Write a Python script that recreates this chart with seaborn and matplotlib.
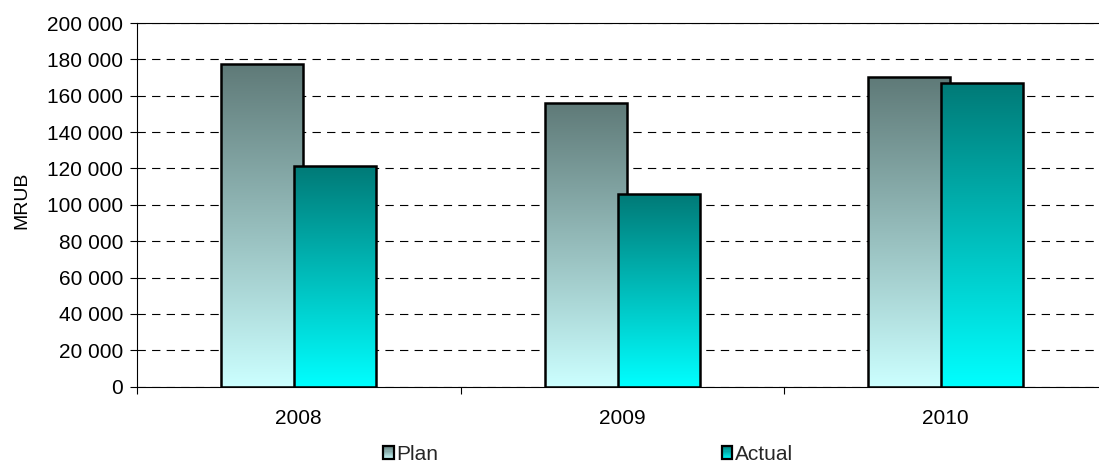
import numpy as np
import pandas as pd
import matplotlib
matplotlib.use("Agg")
import matplotlib.pyplot as plt
import seaborn as sns
from matplotlib.colors import LinearSegmentedColormap, to_rgb
from matplotlib.patches import Rectangle, Patch
from matplotlib.legend_handler import HandlerBase
from matplotlib.ticker import FuncFormatter, FixedLocator

# Data
years = ["2008", "2009", "2010"]
plan = [177300, 155800, 170300]
actual = [121400, 105800, 167000]
series = ["Plan", "Actual"]
yticks = list(range(0, 200001, 20000))

# Vertical gradient per series: (top colour, bottom colour)
gradients = {"Plan": ("#5f7a78", "#ccffff"), "Actual": ("#007a77", "#00ffff")}

df = pd.DataFrame({
    "year": years * 2,
    "series": ["Plan"] * len(years) + ["Actual"] * len(years),
    "value": plan + actual,
})

sns.set_theme(style="white")
plt.rcParams["font.family"] = ["Liberation Sans", "DejaVu Sans"]
plt.rcParams["lines.scale_dashes"] = False
FS = 15

W, H = 1099, 465
fig = plt.figure(figsize=(W / 100, H / 100), dpi=100)
ax = fig.add_axes([137 / W, 78.3 / H, 970.5 / W, 363.7 / H])

sns.barplot(data=df, x="year", y="value", hue="series", order=years,
            hue_order=series, width=0.452, saturation=1, legend=False,
            palette=[gradients[s][0] for s in series], ax=ax)

bar_w = 0.2535
for k, (name, cont) in enumerate(zip(series, ax.containers)):
    top_c, bot_c = gradients[name]
    cmap = LinearSegmentedColormap.from_list(name, [bot_c, top_c])
    grad = np.linspace(0, 1, 256).reshape(-1, 1)
    for bar in cont:
        cx = bar.get_x() + bar.get_width() / 2
        bar.set_x(cx - bar_w / 2)
        bar.set_width(bar_w)
        h = bar.get_height()
        ax.imshow(grad, extent=[cx - bar_w / 2, cx + bar_w / 2, 0, h],
                  origin="lower", aspect="auto", cmap=cmap,
                  interpolation="bilinear", zorder=2 + k * 0.2)
        bar.set_facecolor("none")
        bar.set_edgecolor("black")
        bar.set_linewidth(1.8)
        bar.set_zorder(2.1 + k * 0.2)

ax.set_xlim(-0.5, 2.5)
ax.set_ylim(0, 200000)
ax.set_aspect("auto")

# Gridlines
ax.set_axisbelow(True)
ax.yaxis.grid(True, color="black", linewidth=0.8, linestyle=(0, (6, 4.5)))
ax.xaxis.grid(False)

# Axes spines
for s in ["left", "bottom", "top"]:
    ax.spines[s].set_visible(True)
    ax.spines[s].set_color("black")
    ax.spines[s].set_linewidth(0.8)
ax.spines["right"].set_visible(False)

# Y axis
ax.yaxis.set_major_locator(FixedLocator(yticks))
ax.yaxis.set_major_formatter(FuncFormatter(lambda v, p: f"{v:,.0f}".replace(",", " ")))
ax.tick_params(axis="y", which="major", direction="out", length=5, width=0.8,
               color="black", labelsize=FS, pad=5, left=True)
ax.set_ylabel("MRUB", fontsize=14)
ax.yaxis.set_label_coords(-0.110, 0.513)

# X axis: labels at category centres, ticks at category boundaries
ax.set_xlabel("")
ax.set_xticks(range(len(years)))
ax.set_xticklabels(years)
ax.set_xticks([-0.5, 0.5, 1.5], minor=True)
ax.tick_params(axis="x", which="major", length=0, labelsize=FS, pad=16)
ax.tick_params(axis="x", which="minor", direction="out", length=5, width=0.8,
               color="black", bottom=True)
for lab in ax.get_yticklabels() + ax.get_xticklabels():
    lab.set_color("black")
ax.yaxis.label.set_color("black")


class GradientHandler(HandlerBase):
    def __init__(self, top, bottom, n=12):
        super().__init__()
        self.top = np.array(to_rgb(top))
        self.bottom = np.array(to_rgb(bottom))
        self.n = n

    def create_artists(self, legend, orig_handle, xdescent, ydescent,
                       width, height, fontsize, trans):
        arts = []
        for i in range(self.n):
            t = (i + 0.5) / self.n
            c = self.bottom * (1 - t) + self.top * t
            arts.append(Rectangle((-xdescent, -ydescent + i * height / self.n),
                                  width, height / self.n, facecolor=c,
                                  edgecolor="none", transform=trans))
        arts.append(Rectangle((-xdescent, -ydescent), width, height,
                              facecolor="none", edgecolor="black",
                              linewidth=1.6, transform=trans))
        return arts


handles = [Patch(label=s) for s in series]
hmap = {h: GradientHandler(*gradients[s]) for h, s in zip(handles, series)}
fig.legend(handles=handles, handler_map=hmap, loc="center",
           bbox_to_anchor=(588 / W, 10.5 / H), ncol=2, frameon=False,
           fontsize=FS, handlelength=0.5, handleheight=0.6,
           handletextpad=0.12, columnspacing=13.6, borderpad=0)

fig.savefig("out.png", dpi=100)
